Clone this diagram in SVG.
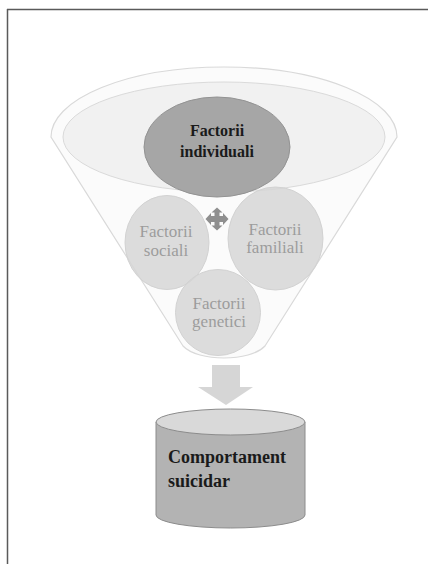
<svg xmlns="http://www.w3.org/2000/svg" width="428" height="564" viewBox="0 0 428 564">
<style>
.serif{font-family:"Liberation Serif","DejaVu Serif",serif;}
.lbl{font-size:17px;fill:#9c9c9c;text-anchor:middle;}
.bold{font-weight:bold;fill:#1a1a1a;}
.circ{fill:#d6d6d6;fill-opacity:0.85;stroke:#d2d2d2;stroke-width:1;}
</style>
<rect width="428" height="564" fill="#ffffff"/>
<g id="frame" fill="none" stroke="#5a5a5a" stroke-width="1.5">
<line x1="7" y1="9.5" x2="428" y2="9.5"/>
<line x1="7.5" y1="9" x2="7.5" y2="564"/>
</g>
<g id="funnel">
<path d="M51,137 A173,70 0 0 1 397,137 L265,346 C250,362 198,362 183,346 Z" fill="#fbfbfb" stroke="#d9d9d9" stroke-width="1.2"/>
<ellipse cx="224" cy="137" rx="161" ry="55" fill="#f1f1f1" stroke="#dadada" stroke-width="1"/>
</g>
<g id="individuali">
<ellipse cx="217" cy="147" rx="73" ry="50" fill="#a6a6a6" stroke="#939393" stroke-width="1"/>
<text class="serif bold" x="217" y="136" font-size="16" text-anchor="middle">Factorii</text>
<text class="serif bold" x="217" y="157" font-size="16" text-anchor="middle">individuali</text>
</g>
<g id="sociali">
<ellipse class="circ" cx="167" cy="242.5" rx="42" ry="47"/>
<text class="serif lbl" x="166" y="237">Factorii</text>
<text class="serif lbl" x="166" y="256">sociali</text>
</g>
<g id="familiali">
<ellipse class="circ" cx="275.5" cy="238.5" rx="47.5" ry="51.5"/>
<text class="serif lbl" x="275" y="235">Factorii</text>
<text class="serif lbl" x="275" y="253">familiali</text>
</g>
<g id="genetici">
<ellipse class="circ" cx="218" cy="312.5" rx="42.5" ry="43"/>
<text class="serif lbl" x="219" y="309">Factorii</text>
<text class="serif lbl" x="219" y="327">genetici</text>
</g>
<g id="connectors">
<polygon fill="#8f8f8f" points="217,207.5 222.5,212.5 219.5,212.5 219.5,216 223,216 223,213 228.5,219 223,225 223,222 219.5,222 219.5,225.5 222.5,225.5 217,230.5 211.5,225.5 214.5,225.5 214.5,222 211,222 211,225 205.5,219 211,213 211,216 214.5,216 214.5,212.5 211.5,212.5"/>
<polygon fill="#d6d6d6" points="212,365 240,365 240,387 253,387 226,405 198,387 212,387"/>
</g>
<g id="comportament">
<path d="M156,422 L156,515 A74.5,13 0 0 0 305,515 L305,422 Z" fill="#b3b3b3" stroke="#8c8c8c" stroke-width="1"/>
<ellipse cx="230.5" cy="422" rx="74.5" ry="13" fill="#d9d9d9" stroke="#8c8c8c" stroke-width="1"/>
<text class="serif bold" x="168" y="463" font-size="18">Comportament</text>
<text class="serif bold" x="168" y="487" font-size="18">suicidar</text>
</g>
</svg>
